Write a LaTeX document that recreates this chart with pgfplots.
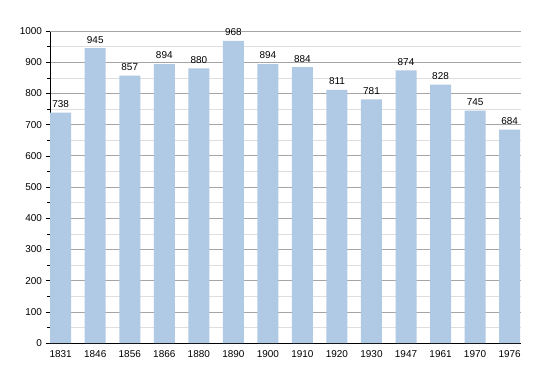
\documentclass[border=0pt]{standalone}
\usepackage{pgfplots}
\pgfplotsset{compat=1.18}
\usepackage{fontspec}
\setmainfont{Liberation Sans}
\definecolor{barc}{RGB}{176,201,228}
\definecolor{majg}{RGB}{165,165,165}
\definecolor{ming}{RGB}{222,222,222}
\begin{document}
\begin{tikzpicture}
\begin{axis}[
  name=ax,
  scale only axis,
  width=471bp, height=312bp,
  ymin=0, ymax=1000,
  xmin=-0.31, xmax=13.33,
  ytick={0,100,...,1000},
  minor y tick num=1,
  xtick=data,
  xticklabels={1831,1846,1856,1866,1880,1890,1900,1910,1920,1930,1947,1961,1970,1976},
  axis x line*=bottom,
  axis y line*=left,
  x axis line style={-, black},
  y axis line style={-, black},
  ymajorgrids, yminorgrids,
  major grid style={majg, line width=0.6pt},
  minor grid style={ming, line width=0.5pt},
  ytick style={black, line width=0.5pt},
  major tick length=4bp,
  minor tick length=2.5bp,
  xtick style={draw=none},
  tick align=outside,
  tick label style={font=\fontsize{10}{12}\selectfont, text=black},
  /pgf/number format/assume math mode=true,
  /pgf/number format/1000 sep={},
  yticklabel style={xshift=-0.5bp},
  nodes near coords,
  every node near coord/.append style={font=\fontsize{10}{12}\selectfont, text=black, yshift=1.5bp},
  clip=false,
]
\addplot[ybar, bar width=21bp, fill=barc, draw=none] coordinates {
(0,738) (1,945) (2,857) (3,894) (4,880) (5,968) (6,894) (7,884) (8,811) (9,781) (10,874) (11,828) (12,745) (13,684)
};
\draw[majg, line width=0.6pt] (axis cs:-0.31,1000) -- (axis cs:13.33,1000);
\end{axis}
\path[use as bounding box] ([shift={(-50bp,-30bp)}]ax.south west) rectangle ([shift={(29bp,31bp)}]ax.north east);
\end{tikzpicture}
\end{document}
